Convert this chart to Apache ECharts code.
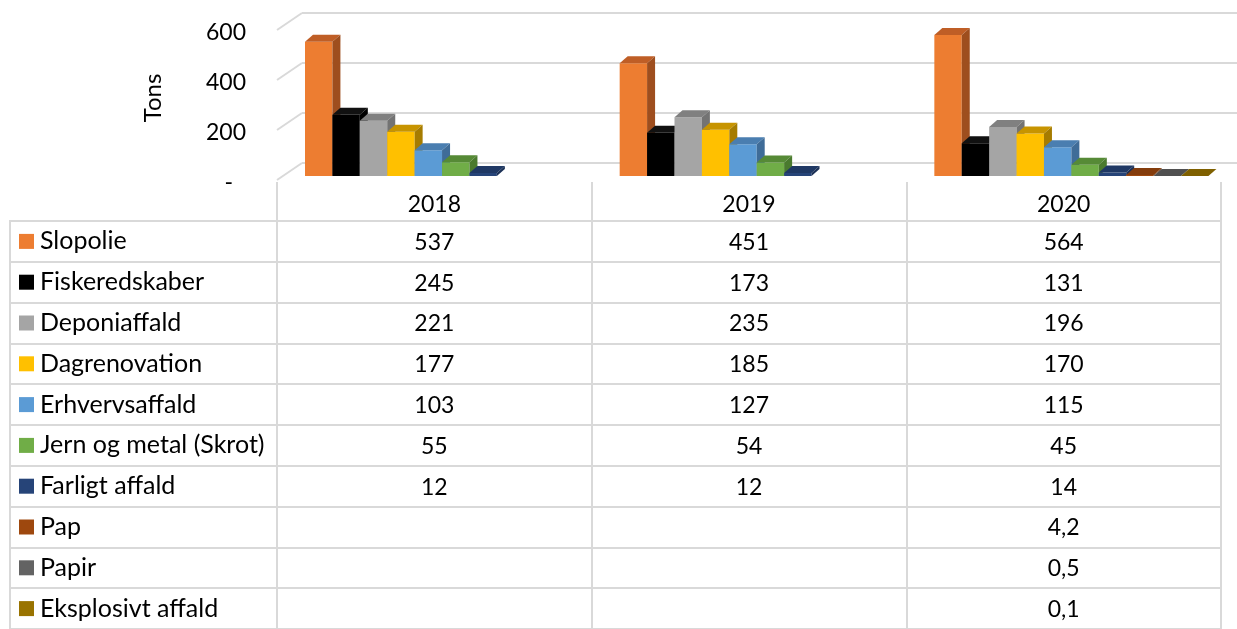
<!DOCTYPE html>
<html>
<head>
<meta charset="utf-8">
<script src="https://cdn.jsdelivr.net/npm/echarts@6/dist/echarts.min.js"></script>
<style>
html,body{margin:0;padding:0;background:#fff;}
#chart{width:1237px;height:629px;}
</style>
</head>
<body>
<div id="chart"></div>
<script>
// data
var years = ['2018', '2019', '2020'];
var names = ['Slopolie', 'Fiskeredskaber', 'Deponiaffald', 'Dagrenovation', 'Erhvervsaffald',
	'Jern og metal (Skrot)', 'Farligt affald', 'Pap', 'Papir', 'Eksplosivt affald'];
var slopolie = [537, 451, 564];
var fiskeredskaber = [245, 173, 131];
var deponiaffald = [221, 235, 196];
var dagrenovation = [177, 185, 170];
var erhvervsaffald = [103, 127, 115];
var jernMetal = [55, 54, 45];
var farligt = [12, 12, 14];
var pap = [null, null, 4.2];
var papir = [null, null, 0.5];
var eksplosivt = [null, null, 0.1];
var yTicks = [0, 200, 400, 600];

var rows = [slopolie, fiskeredskaber, deponiaffald, dagrenovation, erhvervsaffald,
	jernMetal, farligt, pap, papir, eksplosivt];

var colors = ['#ED7D31', '#000000', '#A5A5A5', '#FFC000', '#5B9BD5', '#70AD47', '#264478', '#9E480E', '#636363', '#997300'];
var topColors = ['#BF5E26', '#111111', '#808080', '#C79400', '#4A7EB0', '#568A36', '#1F3864', '#843C0C', '#505050', '#7F6000'];
var sideColors = ['#9E4E1E', '#000000', '#737373', '#A67C00', '#3F6C98', '#4A7A2E', '#1B3056', '#6E320A', '#444444', '#6A5000'];

var FONT = 'Lato, "Open Sans", sans-serif';
var LINE = '#d9d9d9';
var NUM_SIZE = 23, NAME_SIZE = 25;
var BAR_START = 0.089, BAR_W = 0.0871, DX = 8, DY = 7;

var myChart = echarts.init(document.getElementById('chart'));

// 3D-ish column, drawn from the axis scales
function barRender(i) {
	return function (params, api) {
		var idx = api.value(0), v = api.value(1);
		var base = api.coord([idx, 0]);
		var top = api.coord([idx, v]);
		var band = api.size([1, 0])[0];
		var x0 = base[0] - band / 2 + band * BAR_START + i * band * BAR_W;
		var w = band * BAR_W;
		var yt = top[1], yb = base[1];
		return {
			type: 'group',
			children: [
				{type: 'rect', shape: {x: x0, y: yt, width: w, height: yb - yt}, style: {fill: colors[i]}},
				{type: 'polygon', shape: {points: [[x0, yt], [x0 + DX, yt - DY], [x0 + w + DX, yt - DY], [x0 + w, yt]]}, style: {fill: topColors[i]}},
				{type: 'polygon', shape: {points: [[x0 + w, yt], [x0 + w + DX, yt - DY], [x0 + w + DX, yb - DY], [x0 + w, yb]]}, style: {fill: sideColors[i]}}
			]
		};
	};
}

var series = [];
// left wall diagonals
series.push({
	type: 'custom', xAxisIndex: 1, yAxisIndex: 1, clip: false, silent: true,
	data: yTicks.map(function (t) { return [0, t]; }),
	renderItem: function (params, api) {
		var p = api.coord([0, api.value(1)]);
		return {type: 'line', shape: {x1: p[0], y1: p[1], x2: p[0] - 25, y2: p[1] + 17},
			style: {stroke: LINE, lineWidth: 2}};
	}
});
rows.forEach(function (vals, i) {
	var d = [];
	vals.forEach(function (v, k) { if (v != null) d.push([k, v]); });
	series.push({
		type: 'custom', name: names[i], xAxisIndex: 2, yAxisIndex: 2, clip: false,
		data: d, renderItem: barRender(i)
	});
});
// data table cells
var cells = [];
rows.forEach(function (vals, i) {
	vals.forEach(function (v, k) {
		if (v != null) cells.push([k, i, String(v).replace('.', ',')]);
	});
});
series.push({
	type: 'custom', xAxisIndex: 3, yAxisIndex: 3, silent: true,
	data: cells,
	renderItem: function (params, api) {
		var p = api.coord([api.value(0), api.value(1)]);
		return {type: 'text', x: p[0], y: p[1] + 1,
			style: {text: cells[params.dataIndex][2], fill: '#000', font: NUM_SIZE + 'px ' + FONT, align: 'center', verticalAlign: 'middle'}};
	}
});

var rich = {t: {fontSize: NAME_SIZE, fontFamily: FONT, color: '#000', padding: [0, 0, 0, 6]}};
colors.forEach(function (c, i) {
	rich['s' + i] = {width: 15, height: 15, backgroundColor: c};
});

var options = {
	backgroundColor: '#fff',
	animation: false,
	textStyle: {fontFamily: FONT},
	grid: [
		{left: 277, top: 33, width: 944, height: 150},          // front value labels
		{left: 302, top: 13, right: 0, height: 150},            // back wall
		{left: 277, top: 26, width: 944, height: 150},          // columns
		{left: 277, top: 221, width: 944, height: 416, show: true, borderColor: LINE, borderWidth: 2},  // table values
		{left: 10, top: 221, width: 267, height: 416, show: true, borderColor: LINE, borderWidth: 2}    // table names
	],
	xAxis: [
		{gridIndex: 0, type: 'category', data: years, show: false},
		{gridIndex: 1, type: 'value', min: 0, max: 1, show: false},
		{gridIndex: 2, type: 'category', data: years, show: false},
		{gridIndex: 3, type: 'category', data: years, position: 'top',
			axisLine: {show: false},
			axisTick: {show: true, length: 39, lineStyle: {color: LINE, width: 2}},
			axisLabel: {fontSize: NUM_SIZE, color: '#000', fontFamily: FONT, margin: 5},
			splitLine: {show: true, lineStyle: {color: LINE, width: 2}}},
		{gridIndex: 4, type: 'value', show: false}
	],
	yAxis: [
		{gridIndex: 0, type: 'value', min: 0, max: 600, interval: 200,
			name: 'Tons', nameLocation: 'middle', nameGap: 112, nameRotate: 90,
			nameTextStyle: {fontSize: 24, color: '#000', fontFamily: FONT, padding: [0, 0, 0, 20]},
			axisLine: {show: false}, axisTick: {show: false}, splitLine: {show: false},
			axisLabel: {fontSize: NUM_SIZE, color: '#000', fontFamily: FONT, margin: 31,
				formatter: function (v) { return v === 0 ? '{d|-}' : String(v); },
				rich: {d: {fontSize: NUM_SIZE, color: '#000', fontFamily: FONT, padding: [0, 13, 0, 0]}}}},
		{gridIndex: 1, type: 'value', min: 0, max: 600, interval: 200,
			axisLine: {show: false}, axisTick: {show: false}, axisLabel: {show: false},
			splitLine: {show: true, lineStyle: {color: LINE, width: 2}}},
		{gridIndex: 2, type: 'value', min: 0, max: 600, interval: 200, show: false},
		{gridIndex: 3, type: 'category', data: names, inverse: true,
			axisLine: {show: false}, axisTick: {show: false}, axisLabel: {show: false},
			splitLine: {show: true, lineStyle: {color: LINE, width: 2}}},
		{gridIndex: 4, type: 'category', data: names, inverse: true,
			axisLine: {show: false}, axisTick: {show: false},
			splitLine: {show: true, lineStyle: {color: LINE, width: 2}},
			axisLabel: {inside: true, margin: 9, align: 'left',
				formatter: function (v, i) { return '{s' + i + '|}{t|' + v + '}'; },
				rich: rich}}
	],
	series: series
};
myChart.setOption(options);
</script>
</body>
</html>
